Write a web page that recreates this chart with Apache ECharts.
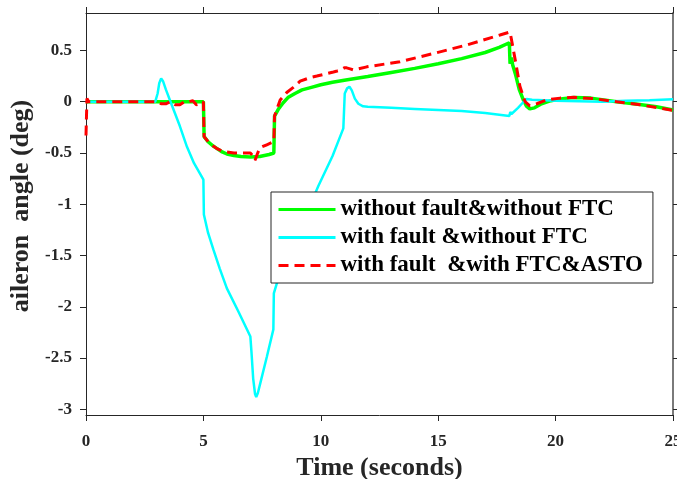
<!DOCTYPE html>
<html>
<head>
<meta charset="utf-8">
<script src="https://cdn.jsdelivr.net/npm/echarts@6/dist/echarts.min.js"></script>
<style>
html,body{margin:0;padding:0;background:#fff;}
#chart{width:677px;height:479px;}
</style>
</head>
<body>
<div id="chart"></div>
<script>
// ---- data ----
const seriesNames = ['without fault&without FTC', 'with fault &without FTC', 'with fault  &with FTC&ASTO'];
const xTicks = [0, 5, 10, 15, 20, 25];
const yTicks = [-3, -2.5, -2, -1.5, -1, -0.5, 0, 0.5];

const tGreen = [0, 5.0, 5.03, 5.2, 5.4, 5.6, 5.8, 6.0, 6.3, 6.6, 7.0, 7.4, 7.8, 8.0, 8.03, 8.2, 8.4, 8.6, 8.9, 9.2, 9.6, 10.0, 10.5, 11, 12, 13, 14, 15, 16, 17, 17.6, 18.03, 18.06, 18.12, 18.17, 18.3, 18.45, 18.62, 18.75, 18.9, 19.1, 19.4, 19.8, 20.3, 20.8, 21.5, 22.6, 23.5, 24.3, 25];
const yGreen = [0, 0, -0.34, -0.39, -0.43, -0.46, -0.49, -0.51, -0.525, -0.535, -0.54, -0.535, -0.515, -0.50, -0.14, -0.07, -0.01, 0.04, 0.08, 0.115, 0.14, 0.165, 0.19, 0.21, 0.245, 0.285, 0.325, 0.37, 0.42, 0.48, 0.53, 0.575, 0.37, 0.43, 0.36, 0.26, 0.12, 0.02, -0.04, -0.07, -0.06, -0.02, 0.01, 0.03, 0.04, 0.035, 0.0, -0.025, -0.05, -0.08];

const tCyan = [0, 2.95, 3.05, 3.12, 3.2, 3.28, 3.4, 3.6, 3.8, 4.0, 4.3, 4.6, 5.0, 5.02, 5.2, 5.43, 5.7, 6.0, 6.5, 7.0, 7.05, 7.12, 7.2, 7.25, 7.32, 7.45, 7.7, 7.98, 8.0, 8.13, 9.0, 9.9, 10.5, 10.96, 11.02, 11.12, 11.22, 11.32, 11.45, 11.6, 11.8, 12, 13, 14, 15, 16, 17, 18.03, 18.07, 18.12, 18.2, 18.4, 18.6, 18.77, 19.0, 19.5, 20, 21, 22, 23, 24, 25];
const yCyan = [0, 0, 0.08, 0.18, 0.228, 0.2, 0.12, 0.0, -0.12, -0.24, -0.44, -0.6, -0.76, -1.1, -1.28, -1.445, -1.63, -1.82, -2.05, -2.29, -2.45, -2.7, -2.85, -2.88, -2.84, -2.72, -2.49, -2.22, -1.87, -1.77, -1.3, -0.82, -0.53, -0.26, 0.08, 0.13, 0.146, 0.11, 0.03, -0.02, -0.045, -0.05, -0.06, -0.07, -0.08, -0.09, -0.11, -0.14, -0.1, -0.12, -0.11, -0.06, -0.01, 0.026, 0.02, 0.015, 0.01, 0.005, 0.0, 0.01, 0.015, 0.023];

const tRed = [0, 0.04, 0.12, 2.9, 3.05, 3.2, 3.4, 3.6, 3.8, 4.0, 4.2, 4.4, 4.55, 4.7, 4.85, 5.0, 5.03, 5.2, 5.4, 5.6, 5.8, 6.0, 6.3, 6.6, 7.0, 7.12, 7.2, 7.28, 7.4, 7.7, 8.0, 8.03, 8.27, 8.55, 8.83, 9.12, 9.54, 9.83, 10.2, 10.54, 10.7, 10.85, 11.0, 11.1, 11.25, 11.39, 11.6, 11.96, 13.37, 14.8, 16.21, 17.63, 18.06, 18.27, 18.48, 18.7, 18.9, 19.2, 19.6, 20.2, 20.75, 21.6, 22.6, 23.6, 25];
const yRed = [-0.33, 0.03, 0.0, 0.0, 0.0, -0.02, -0.02, 0.0, -0.03, -0.03, 0.0, 0.0, 0.01, -0.03, -0.02, 0.0, -0.34, -0.39, -0.43, -0.46, -0.48, -0.49, -0.5, -0.5, -0.5, -0.53, -0.57, -0.52, -0.45, -0.42, -0.39, -0.14, 0.017, 0.09, 0.14, 0.2, 0.235, 0.25, 0.27, 0.29, 0.30, 0.31, 0.33, 0.33, 0.32, 0.31, 0.32, 0.34, 0.39, 0.47, 0.553, 0.65, 0.68, 0.42, 0.15, 0.0, -0.04, -0.02, 0.017, 0.035, 0.043, 0.03, 0.0, -0.03, -0.085];

const zip = (t, y) => t.map((v, i) => [v, y[i]]);

const AX = '#262626';
const FONT = '"Liberation Serif", "Times New Roman", serif';
const yMin = -3.055, yMax = 0.865;

const chart = echarts.init(document.getElementById('chart'), null, {renderer: 'canvas'});
chart.setOption({
  animation: false,
  backgroundColor: '#fff',
  grid: {left: 86, right: 4, top: 13, bottom: 64, containLabel: false, outerBoundsMode: 'none'},
  xAxis: [{
    type: 'value', min: 0, max: 25, interval: 5, position: 'bottom',
    name: 'Time (seconds)', nameLocation: 'middle', nameGap: 33,
    nameTextStyle: {fontFamily: FONT, fontWeight: 'bold', fontSize: 26, color: AX},
    axisLine: {show: true, onZero: false, lineStyle: {color: AX, width: 1}},
    axisTick: {show: true, inside: false, length: 6, lineStyle: {color: AX}},
    axisLabel: {margin: 18, fontFamily: FONT, fontWeight: 'bold', fontSize: 17, color: AX,
      alignMinLabel: 'center', alignMaxLabel: 'center', hideOverlap: false},
    splitLine: {show: false}
  }, {
    type: 'value', min: 0, max: 25, interval: 5, position: 'top',
    axisLine: {show: true, onZero: false, lineStyle: {color: AX, width: 1}},
    axisTick: {show: true, inside: false, length: 6, lineStyle: {color: AX}},
    axisLabel: {show: false}, splitLine: {show: false}
  }],
  yAxis: [{
    type: 'value', min: yMin, max: yMax, position: 'left',
    name: 'aileron  angle (deg)', nameLocation: 'middle', nameGap: 48,
    nameTextStyle: {fontFamily: FONT, fontWeight: 'bold', fontSize: 26, color: AX, padding: [0, 0, 0, 16]},
    axisLine: {show: true, onZero: false, lineStyle: {color: AX, width: 1}},
    axisTick: {show: true, inside: false, length: 6, lineStyle: {color: AX}, customValues: yTicks},
    axisLabel: {margin: 14, fontFamily: FONT, fontWeight: 'bold', fontSize: 17, color: AX,
      customValues: yTicks, formatter: v => String(v)},
    splitLine: {show: false}
  }, {
    type: 'value', min: yMin, max: yMax, position: 'right',
    axisLine: {show: true, onZero: false, lineStyle: {color: '#7a7a7a', width: 2}},
    axisTick: {show: true, inside: false, length: 5, lineStyle: {color: AX}, customValues: yTicks},
    axisLabel: {show: false}, splitLine: {show: false}
  }],
  legend: {
    orient: 'vertical', left: 271, top: 192,
    backgroundColor: '#fff', borderColor: AX, borderWidth: 1,
    padding: [6, 10, 6, 6], itemGap: 5, itemWidth: 57, itemHeight: 22,
    itemStyle: {opacity: 0},
    lineStyle: {width: 3},
    textStyle: {fontFamily: FONT, fontWeight: 'bold', fontSize: 23, color: '#000'},
    data: seriesNames
  },
  series: [{
    name: seriesNames[0], type: 'line', data: zip(tGreen, yGreen),
    showSymbol: false, symbol: 'none',
    lineStyle: {color: '#00ff00', width: 3.5}, itemStyle: {color: '#00ff00'}, z: 2
  }, {
    name: seriesNames[1], type: 'line', data: zip(tCyan, yCyan),
    showSymbol: false, symbol: 'none',
    lineStyle: {color: '#00ffff', width: 2.5}, itemStyle: {color: '#00ffff'}, z: 3
  }, {
    name: seriesNames[2], type: 'line', data: zip(tRed, yRed),
    showSymbol: false, symbol: 'none',
    lineStyle: {color: '#ff0000', width: 3, type: [10, 6]}, itemStyle: {color: '#ff0000'}, z: 4
  }]
});
</script>
</body>
</html>
